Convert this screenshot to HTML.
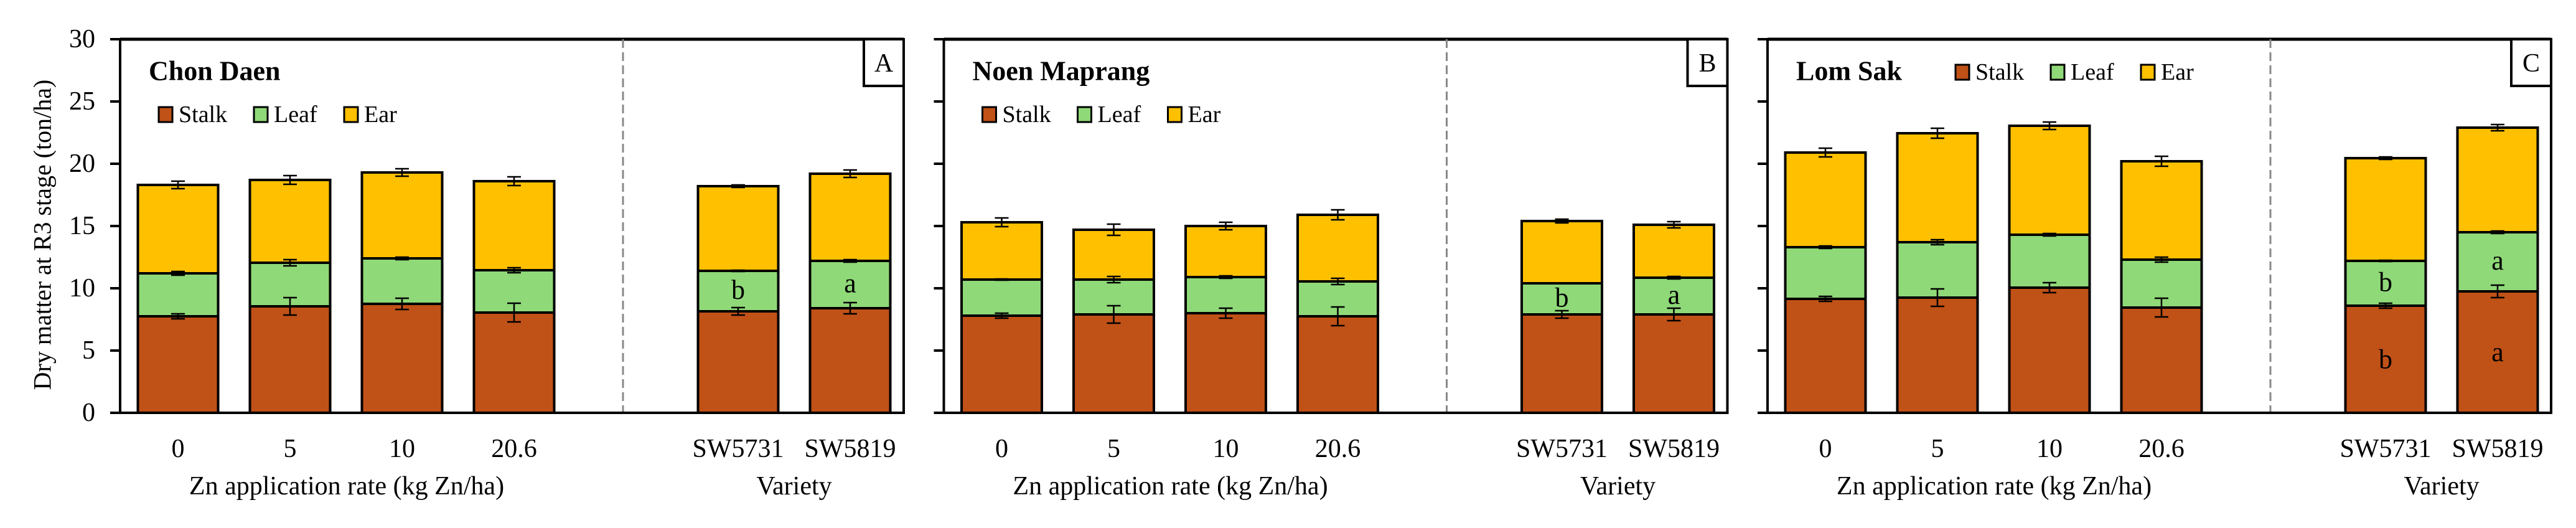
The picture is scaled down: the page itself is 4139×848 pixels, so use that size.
<!DOCTYPE html>
<html><head><meta charset="utf-8">
<style>
html,body{margin:0;padding:0;background:#fff;}
svg{display:block;}
text{font-family:"Liberation Serif",serif;fill:#000;}
</style></head>
<body>
<svg id="chart" width="4139" height="848" viewBox="0 0 4139 848" xmlns="http://www.w3.org/2000/svg"></svg>
<script>
const categories = ["0","5","10","20.6","SW5731","SW5819"];
const yTicks = [0,5,10,15,20,25,30];
const panelNames = ["Chon Daen","Noen Maprang","Lom Sak"];
const panelLetters = ["A","B","C"];
const stalkA = [7.75,8.55,8.75,8.05,8.15,8.4];
const leafA  = [3.45,3.5,3.65,3.4,3.25,3.8];
const earA   = [7.1,6.65,6.9,7.15,6.8,7.0];
const stalkB = [7.8,7.9,8.0,7.75,7.9,7.9];
const leafB  = [2.9,2.8,2.9,2.8,2.5,2.95];
const earB   = [4.6,4.0,4.1,5.35,5.0,4.25];
const stalkC = [9.15,9.25,10.05,8.45,8.6,9.75];
const leafC  = [4.15,4.45,4.25,3.85,3.6,4.75];
const earC   = [7.6,8.75,8.75,7.9,8.25,8.4];
const errStalkA=[0.2,0.7,0.45,0.75,0.3,0.45], errLeafA=[0.15,0.25,0.1,0.2,0.05,0.1], errEarA=[0.3,0.35,0.3,0.35,0.1,0.3];
const errStalkB=[0.2,0.7,0.4,0.75,0.3,0.5], errLeafB=[0.05,0.25,0.1,0.25,0.0,0.1], errEarB=[0.35,0.45,0.3,0.4,0.15,0.25];
const errStalkC=[0.2,0.7,0.4,0.75,0.2,0.5], errLeafC=[0.1,0.2,0.1,0.2,0.05,0.1], errEarC=[0.35,0.4,0.3,0.4,0.1,0.25];
const sigLeaf = [["","","","","b","a"],["","","","","b","a"],["","","","","b","a"]];
const sigStalk = [["","","","","",""],["","","","","",""],["","","","","b","a"]];

const stalks=[stalkA,stalkB,stalkC], leaves=[leafA,leafB,leafC], ears=[earA,earB,earC];
const eS=[errStalkA,errStalkB,errStalkC], eL=[errLeafA,errLeafB,errLeafC], eE=[errEarA,errEarB,errEarC];
const COL={stalk:"#C05117",leaf:"#8FD978",ear:"#FFC000"};
const svg=document.getElementById('chart');
const NS="http://www.w3.org/2000/svg";
function mk(tag,attrs,parent){const e=document.createElementNS(NS,tag);for(const k in attrs)e.setAttribute(k,attrs[k]);(parent||svg).appendChild(e);return e;}
const Y0=663, PXU=20;
function y(v){return Y0-v*PXU;}
const centers=[93,273,453,633,993,1173];
function xc(i,x0){return x0+centers[i];}
const BW=129, PW=1259;

const yt=mk('text',{x:68,y:377,'font-size':40,'text-anchor':'middle',transform:'rotate(-90 68 377)','dominant-baseline':'central'});
yt.textContent="Dry matter at R3 stage (ton/ha)";



for(let p=0;p<3;p++){
  const x0=193+p*1323.5;
  const g=mk('g',{});
  
  
  mk('line',{x1:x0,y1:63,x2:x0+PW,y2:63,stroke:'#000','stroke-width':5},g);
  mk('line',{x1:x0+PW,y1:63,x2:x0+PW,y2:Y0,stroke:'#000','stroke-width':4},g);
  mk('line',{x1:x0+808,y1:63,x2:x0+808,y2:Y0+6,stroke:'#888','stroke-width':3,'stroke-dasharray':'14 7'},g);
  yTicks.forEach(t=>{
    mk('line',{x1:x0-16,y1:y(t),x2:x0,y2:y(t),stroke:'#000','stroke-width':4},g);
    if(p===0){const tl=mk('text',{x:153,y:y(t),'font-size':42,'text-anchor':'end','dominant-baseline':'central'},g);tl.textContent=t;
      }
  });
  for(let i=0;i<categories.length;i++){
    const cx=xc(i,x0), s=stalks[p][i], l=leaves[p][i], e=ears[p][i];
    const segs=[[0,s,COL.stalk,'stalk'],[s,s+l,COL.leaf,'leaf'],[s+l,s+l+e,COL.ear,'ear']];
    segs.forEach(sg=>{
      const r=mk('rect',{x:cx-BW/2,y:y(sg[1]),width:BW,height:y(sg[0])-y(sg[1]),fill:sg[2],stroke:'#000','stroke-width':4},g);
      
      
    });
    const errs=[[s,eS[p][i]],[s+l,eL[p][i]],[s+l+e,eE[p][i]]];
    errs.forEach(er=>{
      if(er[1]<=0)return;
      const a=y(er[0]+er[1]), b=y(er[0]-er[1]);
      mk('line',{x1:cx,y1:a,x2:cx,y2:b,stroke:'#000','stroke-width':2.5},g);
      mk('line',{x1:cx-11,y1:a,x2:cx+11,y2:a,stroke:'#000','stroke-width':2.5},g);
      mk('line',{x1:cx-11,y1:b,x2:cx+11,y2:b,stroke:'#000','stroke-width':2.5},g);
    });
    if(sigLeaf[p][i]){const t=mk('text',{x:cx,y:y(s+l/2)-2,'font-size':44,'text-anchor':'middle','dominant-baseline':'central'},g);t.textContent=sigLeaf[p][i];
      }
    if(sigStalk[p][i]){const t=mk('text',{x:cx,y:y(s/2),'font-size':44,'text-anchor':'middle','dominant-baseline':'central'},g);t.textContent=sigStalk[p][i];
      }
    const cl=mk('text',{x:cx,y:721,'font-size':42,'text-anchor':'middle','dominant-baseline':'central'},g);cl.textContent=categories[i];
    
  }
  mk('line',{x1:x0,y1:63,x2:x0,y2:Y0,stroke:'#000','stroke-width':4},g);
  mk('line',{x1:x0-16,y1:Y0,x2:x0+PW+2,y2:Y0,stroke:'#000','stroke-width':4},g);
  const at=mk('text',{x:x0+364,y:781,'font-size':42,'text-anchor':'middle','dominant-baseline':'central'},g);at.textContent="Zn application rate (kg Zn/ha)";
  
  const vt=mk('text',{x:x0+1083,y:781,'font-size':42,'text-anchor':'middle','dominant-baseline':'central'},g);vt.textContent="Variety";
  
  mk('rect',{x:x0+PW-64,y:63,width:64,height:75,fill:'#fff',stroke:'#000','stroke-width':4},g);
  const pl=mk('text',{x:x0+PW-32,y:102,'font-size':42,'text-anchor':'middle','dominant-baseline':'central'},g);pl.textContent=panelLetters[p];
  
  const tt=mk('text',{x:x0+46,y:114,'font-size':44,'font-weight':'bold','dominant-baseline':'central'},g);tt.textContent=panelNames[p];
  
  const lx = p===2 ? x0+302 : x0+62, ly = p===2 ? 116 : 184;
  const lg=mk('g',{},g);
  
  [["Stalk",COL.stalk,0],["Leaf",COL.leaf,153],["Ear",COL.ear,298]].forEach(L=>{
    mk('rect',{x:lx+L[2],y:ly-12,width:22,height:24,fill:L[1],stroke:'#000','stroke-width':3},lg);
    const t=mk('text',{x:lx+L[2]+32,y:ly,'font-size':38,'dominant-baseline':'central'},lg);t.textContent=L[0];
    
  });
}
</script>
</body></html>
